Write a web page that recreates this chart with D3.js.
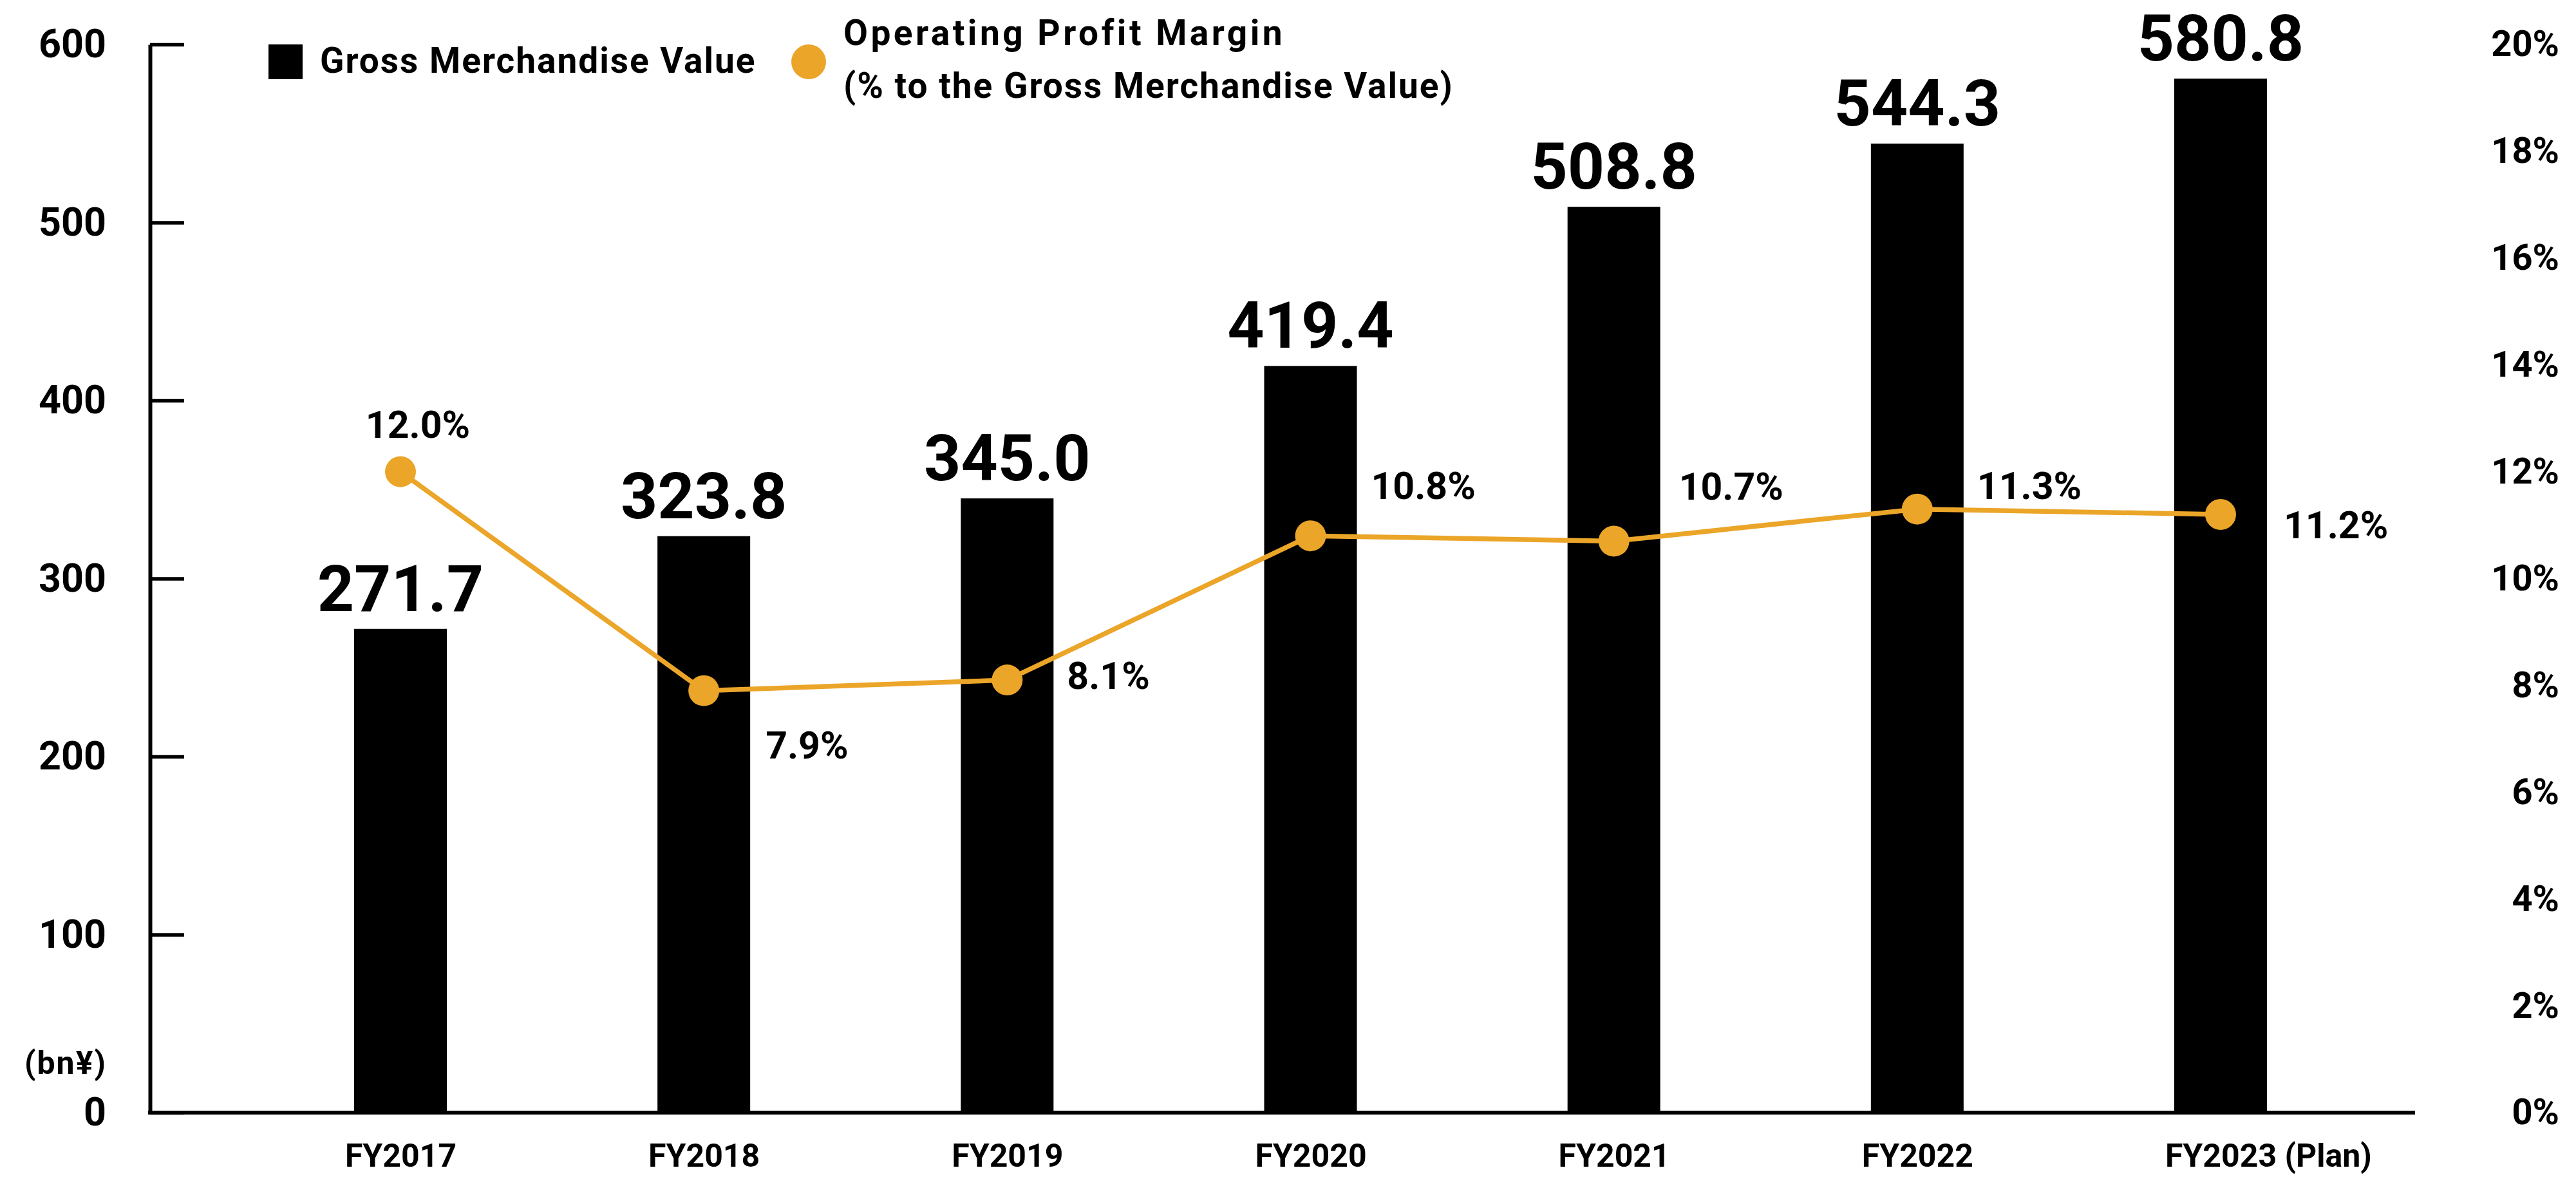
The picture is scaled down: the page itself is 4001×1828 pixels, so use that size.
<!DOCTYPE html>
<html>
<head>
<meta charset="utf-8">
<script src="https://cdn.jsdelivr.net/npm/d3@7"></script>
<style>
  html, body { margin: 0; padding: 0; background: #fff; }
  svg { display: block; }
  text { font-family: Roboto, "Noto Sans", sans-serif; font-weight: 700; fill: #000; }
</style>
</head>
<body>
<script>
// Fiscal years, gross merchandise value (bn yen) and operating profit margin (%)
const categories = ["FY2017", "FY2018", "FY2019", "FY2020", "FY2021", "FY2022", "FY2023"];
const categorySuffix = ["", "", "", "", "", "", " (Plan)"];
const gmvValues = [271.7, 323.8, 345.0, 419.4, 508.8, 544.3, 580.8];
const marginValues = [12.0, 7.9, 8.1, 10.8, 10.7, 11.3, 11.2];
const leftTicks = [0, 100, 200, 300, 400, 500, 600];
const rightTicks = [0, 2, 4, 6, 8, 10, 12, 14, 16, 18, 20];

// Where each margin label sits relative to its dot
const marginLabelPlacement = [
  { dx: 27, dy: -74, anchor: "middle" },
  { dx: 96, dy: 84, anchor: "start" },
  { dx: 93, dy: -7, anchor: "start" },
  { dx: 94, dy: -78, anchor: "start" },
  { dx: 101, dy: -86, anchor: "start" },
  { dx: 93, dy: -37, anchor: "start" },
  { dx: 98, dy: 16, anchor: "start" }
];

const W = 4001, H = 1828;
const ORANGE = "#EBA528";
const axisX = 233, plotRight = 3751;
const yTop = 69, yBottom = 1728;

const svg = d3.select("body").append("svg")
  .attr("width", W).attr("height", H)
  .attr("viewBox", `0 0 ${W} ${H}`);

const x = d3.scalePoint().domain(categories).range([622, 3449]).padding(0);
const barWidth = 144;
const y = d3.scaleLinear().domain([0, 600]).range([yBottom, yTop]);
const yR = d3.scaleLinear().domain([0, 20]).range([yBottom, yTop]);

// Left axis: vertical line with ticks pointing into the plot
const leftAxis = svg.append("g")
  .attr("transform", `translate(${axisX},0)`)
  .call(d3.axisLeft(y).tickValues(leftTicks).tickSizeInner(-53).tickSizeOuter(0).tickPadding(68));
leftAxis.select(".domain").attr("stroke", "#000").attr("stroke-width", 6);
leftAxis.selectAll(".tick line").attr("stroke", "#000").attr("stroke-width", 5.5);
leftAxis.selectAll(".tick text").attr("font-size", 61).attr("fill", "#000")
  .attr("font-family", "Roboto, sans-serif").attr("font-weight", 700);

// Unit label
svg.append("text")
  .attr("x", 166).attr("y", 1650).attr("dy", "0.35em")
  .attr("text-anchor", "end").attr("font-size", 50).attr("letter-spacing", 2)
  .text("(bn¥)");

// Right axis: percentage labels only
const rightAxis = svg.append("g")
  .attr("transform", `translate(3975,0)`)
  .call(d3.axisRight(yR).tickValues(rightTicks).tickSize(0).tickPadding(0).tickFormat(d => d + "%"));
rightAxis.select(".domain").remove();
rightAxis.selectAll(".tick text").attr("text-anchor", "end").attr("font-size", 56)
  .attr("fill", "#000").attr("font-family", "Roboto, sans-serif").attr("font-weight", 700);

// Bars
svg.append("g").selectAll("rect")
  .data(gmvValues)
  .join("rect")
  .attr("x", (d, i) => x(categories[i]) - barWidth / 2)
  .attr("y", d => y(d))
  .attr("width", barWidth)
  .attr("height", d => y(0) - y(d))
  .attr("fill", "#000");

// Baseline
svg.append("line")
  .attr("x1", axisX - 3).attr("x2", plotRight)
  .attr("y1", y(0)).attr("y2", y(0))
  .attr("stroke", "#000").attr("stroke-width", 6);

// Bottom axis labels
const bottomAxis = svg.append("g")
  .attr("transform", `translate(0,${y(0)})`)
  .call(d3.axisBottom(x).tickSize(0).tickPadding(48));
bottomAxis.select(".domain").remove();
bottomAxis.selectAll(".tick text")
  .attr("font-size", 50).attr("fill", "#000")
  .attr("font-family", "Roboto, sans-serif").attr("font-weight", 700)
  .each(function (d, i) {
    const t = d3.select(this);
    if (categorySuffix[i]) {
      const w = this.getComputedTextLength();
      t.attr("text-anchor", "start").attr("x", -w / 2);
      t.append("tspan").text(categorySuffix[i]);
    }
  });

// Bar value labels
svg.append("g").selectAll("text")
  .data(gmvValues)
  .join("text")
  .attr("x", (d, i) => x(categories[i]))
  .attr("y", d => y(d) - 28)
  .attr("text-anchor", "middle")
  .attr("font-size", 100)
  .text(d => d.toFixed(1));

// Margin line and dots
const line = d3.line()
  .x((d, i) => x(categories[i]))
  .y(d => yR(d));
svg.append("path")
  .datum(marginValues)
  .attr("d", line)
  .attr("fill", "none")
  .attr("stroke", ORANGE)
  .attr("stroke-width", 7.5);
svg.append("g").selectAll("circle")
  .data(marginValues)
  .join("circle")
  .attr("cx", (d, i) => x(categories[i]))
  .attr("cy", d => yR(d))
  .attr("r", 24)
  .attr("fill", ORANGE);

// Margin labels
svg.append("g").selectAll("text")
  .data(marginValues)
  .join("text")
  .attr("x", (d, i) => x(categories[i]) + marginLabelPlacement[i].dx)
  .attr("y", (d, i) => yR(d) + marginLabelPlacement[i].dy)
  .attr("dy", "0.36em")
  .attr("text-anchor", (d, i) => marginLabelPlacement[i].anchor)
  .attr("font-size", 59)
  .text(d => d.toFixed(1) + "%");

// Legend
const legend = svg.append("g");
legend.append("rect").attr("x", 417).attr("y", 69).attr("width", 53).attr("height", 54).attr("fill", "#000");
legend.append("text").attr("x", 497).attr("y", 113).attr("font-size", 55).attr("letter-spacing", 2)
  .text("Gross Merchandise Value");
legend.append("circle").attr("cx", 1256).attr("cy", 96).attr("r", 27).attr("fill", ORANGE);
legend.append("text").attr("x", 1310).attr("y", 70).attr("font-size", 55).attr("letter-spacing", 4.5)
  .text("Operating Profit Margin");
legend.append("text").attr("x", 1310).attr("y", 152).attr("font-size", 55).attr("letter-spacing", 2)
  .text("(% to the Gross Merchandise Value)");
</script>
</body>
</html>
